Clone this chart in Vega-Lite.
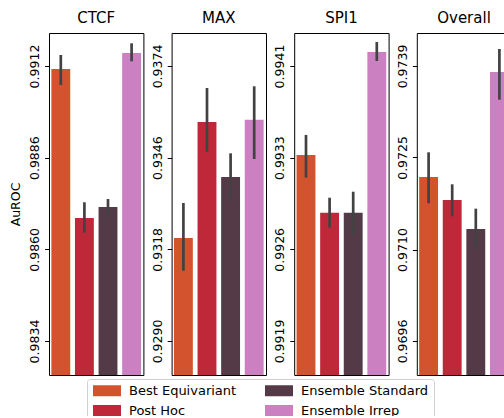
{
  "$schema": "https://vega.github.io/schema/vega-lite/v6.json",
  "padding": {"left": 9, "top": 10, "right": -5, "bottom": -8},
  "background": "white",
  "data": {"values": [
    {"panel": "CTCF", "model": "Best Equivariant", "value": 0.991115, "lo": 0.990661, "hi": 0.991512},
    {"panel": "CTCF", "model": "Post Hoc", "value": 0.986889, "lo": 0.986473, "hi": 0.987335},
    {"panel": "CTCF", "model": "Ensemble Standard", "value": 0.987201, "lo": 0.986926, "hi": 0.987428},
    {"panel": "CTCF", "model": "Ensemble Irrep", "value": 0.991569, "lo": 0.991333, "hi": 0.991844},
    {"panel": "MAX", "model": "Best Equivariant", "value": 0.932146, "lo": 0.931147, "hi": 0.933215},
    {"panel": "MAX", "model": "Post Hoc", "value": 0.935689, "lo": 0.934782, "hi": 0.936728},
    {"panel": "MAX", "model": "Ensemble Standard", "value": 0.934009, "lo": 0.933307, "hi": 0.934733},
    {"panel": "MAX", "model": "Ensemble Irrep", "value": 0.93576, "lo": 0.934559, "hi": 0.93678},
    {"panel": "SPI1", "model": "Best Equivariant", "value": 0.993351, "lo": 0.993171, "hi": 0.993511},
    {"panel": "SPI1", "model": "Post Hoc", "value": 0.992892, "lo": 0.992772, "hi": 0.993011},
    {"panel": "SPI1", "model": "Ensemble Standard", "value": 0.992892, "lo": 0.992709, "hi": 0.993059},
    {"panel": "SPI1", "model": "Ensemble Irrep", "value": 0.994172, "lo": 0.9941, "hi": 0.994251},
    {"panel": "Overall", "model": "Best Equivariant", "value": 0.972174, "lo": 0.971763, "hi": 0.97256},
    {"panel": "Overall", "model": "Post Hoc", "value": 0.971815, "lo": 0.97156, "hi": 0.97206},
    {"panel": "Overall", "model": "Ensemble Standard", "value": 0.971361, "lo": 0.971059, "hi": 0.971679},
    {"panel": "Overall", "model": "Ensemble Irrep", "value": 0.973816, "lo": 0.973383, "hi": 0.974176}
  ]},
  "spacing": 27.6,
  "bounds": "flush",
  "hconcat": [
    {
      "width": 94.4, "height": 342,
      "title": "CTCF",
      "transform": [{"filter": "datum.panel == 'CTCF'"}],
      "encoding": {"x": {"field": "model", "type": "nominal", "axis": null,
        "sort": ["Best Equivariant", "Post Hoc", "Ensemble Standard", "Ensemble Irrep"],
        "scale": {"paddingInner": 0.2, "paddingOuter": 0.1}}},
      "layer": [
        {"mark": {"type": "bar", "clip": true},
         "encoding": {
           "y": {"field": "value", "type": "quantitative", "title": "AuROC",
             "scale": {"domain": [0.982436, 0.992136], "zero": false, "nice": false},
             "axis": {"values": [0.9834, 0.986, 0.9886, 0.9912]}},
           "color": {"field": "model", "type": "nominal", "title": null,
             "legend": {"encode": {"symbols": {"update": {"fill": {"signal": "datum.value == 'Best Equivariant' ? '#f04d22' : datum.value == 'Post Hoc' ? '#d7162b' : datum.value == 'Ensemble Standard' ? '#55343f' : '#d879cf'"}}}}},
             "scale": {"domain": ["Best Equivariant", "Post Hoc", "Ensemble Standard", "Ensemble Irrep"],
                       "range": ["#d3532e", "#be2838", "#543a47", "#cb80c2"]}}}},
        {"mark": {"type": "rule", "color": "#424242", "strokeWidth": 2.7},
         "encoding": {"y": {"field": "lo", "type": "quantitative"}, "y2": {"field": "hi"}}}
      ]
    },
    {
      "width": 94.4, "height": 342,
      "title": "MAX",
      "transform": [{"filter": "datum.panel == 'MAX'"}],
      "encoding": {"x": {"field": "model", "type": "nominal", "axis": null,
        "sort": ["Best Equivariant", "Post Hoc", "Ensemble Standard", "Ensemble Irrep"],
        "scale": {"paddingInner": 0.2, "paddingOuter": 0.1}}},
      "layer": [
        {"mark": {"type": "bar", "clip": true},
         "encoding": {
           "y": {"field": "value", "type": "quantitative", "title": null,
             "scale": {"domain": [0.927961, 0.938408], "zero": false, "nice": false},
             "axis": {"values": [0.929, 0.9318, 0.9346, 0.9374]}},
           "color": {"field": "model", "type": "nominal", "title": null,
             "legend": {"encode": {"symbols": {"update": {"fill": {"signal": "datum.value == 'Best Equivariant' ? '#f04d22' : datum.value == 'Post Hoc' ? '#d7162b' : datum.value == 'Ensemble Standard' ? '#55343f' : '#d879cf'"}}}}},
             "scale": {"domain": ["Best Equivariant", "Post Hoc", "Ensemble Standard", "Ensemble Irrep"],
                       "range": ["#d3532e", "#be2838", "#543a47", "#cb80c2"]}}}},
        {"mark": {"type": "rule", "color": "#424242", "strokeWidth": 2.7},
         "encoding": {"y": {"field": "lo", "type": "quantitative"}, "y2": {"field": "hi"}}}
      ]
    },
    {
      "width": 94.4, "height": 342,
      "title": "SPI1",
      "transform": [{"filter": "datum.panel == 'SPI1'"}],
      "encoding": {"x": {"field": "model", "type": "nominal", "axis": null,
        "sort": ["Best Equivariant", "Post Hoc", "Ensemble Standard", "Ensemble Irrep"],
        "scale": {"paddingInner": 0.2, "paddingOuter": 0.1}}},
      "layer": [
        {"mark": {"type": "bar", "clip": true},
         "encoding": {
           "y": {"field": "value", "type": "quantitative", "title": null,
             "scale": {"domain": [0.991599, 0.994323], "zero": false, "nice": false},
             "axis": {"values": [0.99187, 0.9926, 0.99333, 0.99406]}},
           "color": {"field": "model", "type": "nominal", "title": null,
             "legend": {"encode": {"symbols": {"update": {"fill": {"signal": "datum.value == 'Best Equivariant' ? '#f04d22' : datum.value == 'Post Hoc' ? '#d7162b' : datum.value == 'Ensemble Standard' ? '#55343f' : '#d879cf'"}}}}},
             "scale": {"domain": ["Best Equivariant", "Post Hoc", "Ensemble Standard", "Ensemble Irrep"],
                       "range": ["#d3532e", "#be2838", "#543a47", "#cb80c2"]}}}},
        {"mark": {"type": "rule", "color": "#424242", "strokeWidth": 2.7},
         "encoding": {"y": {"field": "lo", "type": "quantitative"}, "y2": {"field": "hi"}}}
      ]
    },
    {
      "width": 94.4, "height": 342,
      "title": "Overall",
      "transform": [{"filter": "datum.panel == 'Overall'"}],
      "encoding": {"x": {"field": "model", "type": "nominal", "axis": null,
        "sort": ["Best Equivariant", "Post Hoc", "Ensemble Standard", "Ensemble Irrep"],
        "scale": {"paddingInner": 0.2, "paddingOuter": 0.1}}},
      "layer": [
        {"mark": {"type": "bar", "clip": true},
         "encoding": {
           "y": {"field": "value", "type": "quantitative", "title": null,
             "scale": {"domain": [0.969078, 0.974426], "zero": false, "nice": false},
             "axis": {"values": [0.96961, 0.97104, 0.97248, 0.97391]}},
           "color": {"field": "model", "type": "nominal", "title": null,
             "legend": {"encode": {"symbols": {"update": {"fill": {"signal": "datum.value == 'Best Equivariant' ? '#f04d22' : datum.value == 'Post Hoc' ? '#d7162b' : datum.value == 'Ensemble Standard' ? '#55343f' : '#d879cf'"}}}}},
             "scale": {"domain": ["Best Equivariant", "Post Hoc", "Ensemble Standard", "Ensemble Irrep"],
                       "range": ["#d3532e", "#be2838", "#543a47", "#cb80c2"]}}}},
        {"mark": {"type": "rule", "color": "#424242", "strokeWidth": 2.7},
         "encoding": {"y": {"field": "lo", "type": "quantitative"}, "y2": {"field": "hi"}}}
      ]
    }
  ],
  "config": {
    "font": "DejaVu Sans",
    "view": {"stroke": "black", "strokeWidth": 1},
    "title": {"fontSize": 15, "fontWeight": "normal", "color": "black", "baseline": "alphabetic", "offset": 7, "font": "DejaVu Sans"},
    "axis": {"grid": false, "domain": false, "format": ".4f", "labelAngle": 270, "labelAlign": "center", "labelBaseline": "bottom",
             "labelFlush": false, "labelOverlap": false,
             "labelFontSize": 12.5, "labelColor": "black", "labelFont": "DejaVu Sans",
             "tickColor": "black", "tickSize": 4.4, "tickWidth": 1, "labelPadding": 3,
             "titleFontSize": 12.5, "titleFontWeight": "normal", "titleColor": "black", "titleFont": "DejaVu Sans", "titlePadding": 6},
    "legend": {"orient": "none", "legendX": 38, "legendY": 346, "columns": 2, "direction": "vertical",
               "symbolType": "M-2.545,-1H2.545V1H-2.545Z", "symbolSize": 121, "symbolOffset": 8.5, "symbolStrokeWidth": 0, "symbolOpacity": 1,
               "labelFontSize": 13, "labelFont": "DejaVu Sans", "labelColor": "black", "labelOffset": 15.5,
               "rowPadding": 6, "columnPadding": 27, "padding": 5, "strokeColor": "#d0d0d0", "fillColor": "white",
               "cornerRadius": 3, "labelLimit": 300}
  }
}
